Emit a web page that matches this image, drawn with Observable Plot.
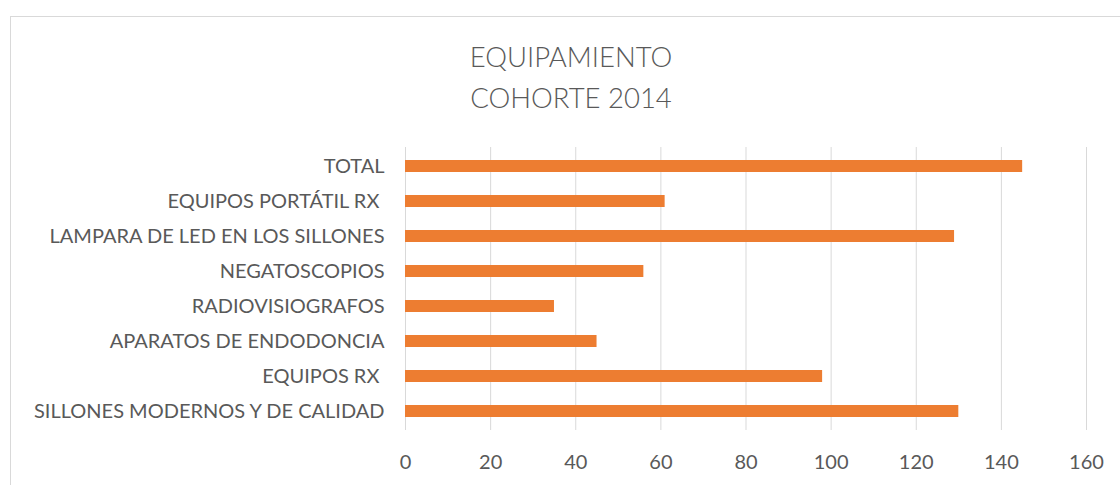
<!DOCTYPE html>
<html>
<head>
<meta charset="utf-8">
<script src="https://cdn.jsdelivr.net/npm/d3@7"></script>
<script src="https://cdn.jsdelivr.net/npm/@observablehq/plot@0.6"></script>
<style>
  html, body { margin: 0; padding: 0; background: #fff; }
  body { width: 1120px; height: 485px; position: relative; overflow: hidden; font-family: Lato, "Open Sans", sans-serif; }
  #frame { position: absolute; left: 10px; top: 16px; width: 1130px; height: 500px; border: 1px solid #d9d9d9; box-sizing: border-box; }
  #title { position: absolute; left: 0; width: 1142px; top: 36px; text-align: center; color: #595959; font-size: 27.5px; font-weight: 300; line-height: 41px; }
  #chart { position: absolute; left: 0; top: 130px; }
</style>
</head>
<body>
<div id="frame"></div>
<div id="title">EQUIPAMIENTO<br>COHORTE 2014</div>
<div id="chart"></div>
<script>
const categories = [
  "TOTAL",
  "EQUIPOS PORTÁTIL RX ",
  "LAMPARA DE LED EN LOS SILLONES",
  "NEGATOSCOPIOS",
  "RADIOVISIOGRAFOS",
  "APARATOS DE ENDODONCIA",
  "EQUIPOS RX ",
  "SILLONES MODERNOS Y DE CALIDAD"
];
const values = [145, 61, 129, 56, 35, 45, 98, 130];
const xTicks = [0, 20, 40, 60, 80, 100, 120, 140, 160];

const data = categories.map((c, i) => ({category: c, value: values[i]}));

const chart = Plot.plot({
  width: 1120,
  height: 355,
  marginTop: 17,
  marginBottom: 55,
  marginLeft: 405,
  marginRight: 34,
  style: {fontFamily: "Lato, sans-serif", fontSize: "20px", color: "#595959", background: "transparent"},
  x: {domain: [0, 160], ticks: xTicks, label: null},
  y: {domain: categories, paddingInner: 0.65, paddingOuter: 0.325, label: null},
  marks: [
    Plot.ruleX(xTicks, {stroke: "#d9d9d9", strokeWidth: 1, strokeOpacity: 1}),
    Plot.barX(data, {x: "value", y: "category", fill: "#ED7D31"}),
    Plot.axisX({ticks: xTicks, tickSize: 0, tickPadding: 24, fill: "#595959", fontSize: 20, label: null}),
    Plot.axisY({tickSize: 0, tickPadding: 21, fill: "#595959", fontSize: 20, label: null,
      tickFormat: d => d.replace(/ $/, "\u00a0")})
  ]
});
document.getElementById("chart").appendChild(chart);
</script>
</body>
</html>
